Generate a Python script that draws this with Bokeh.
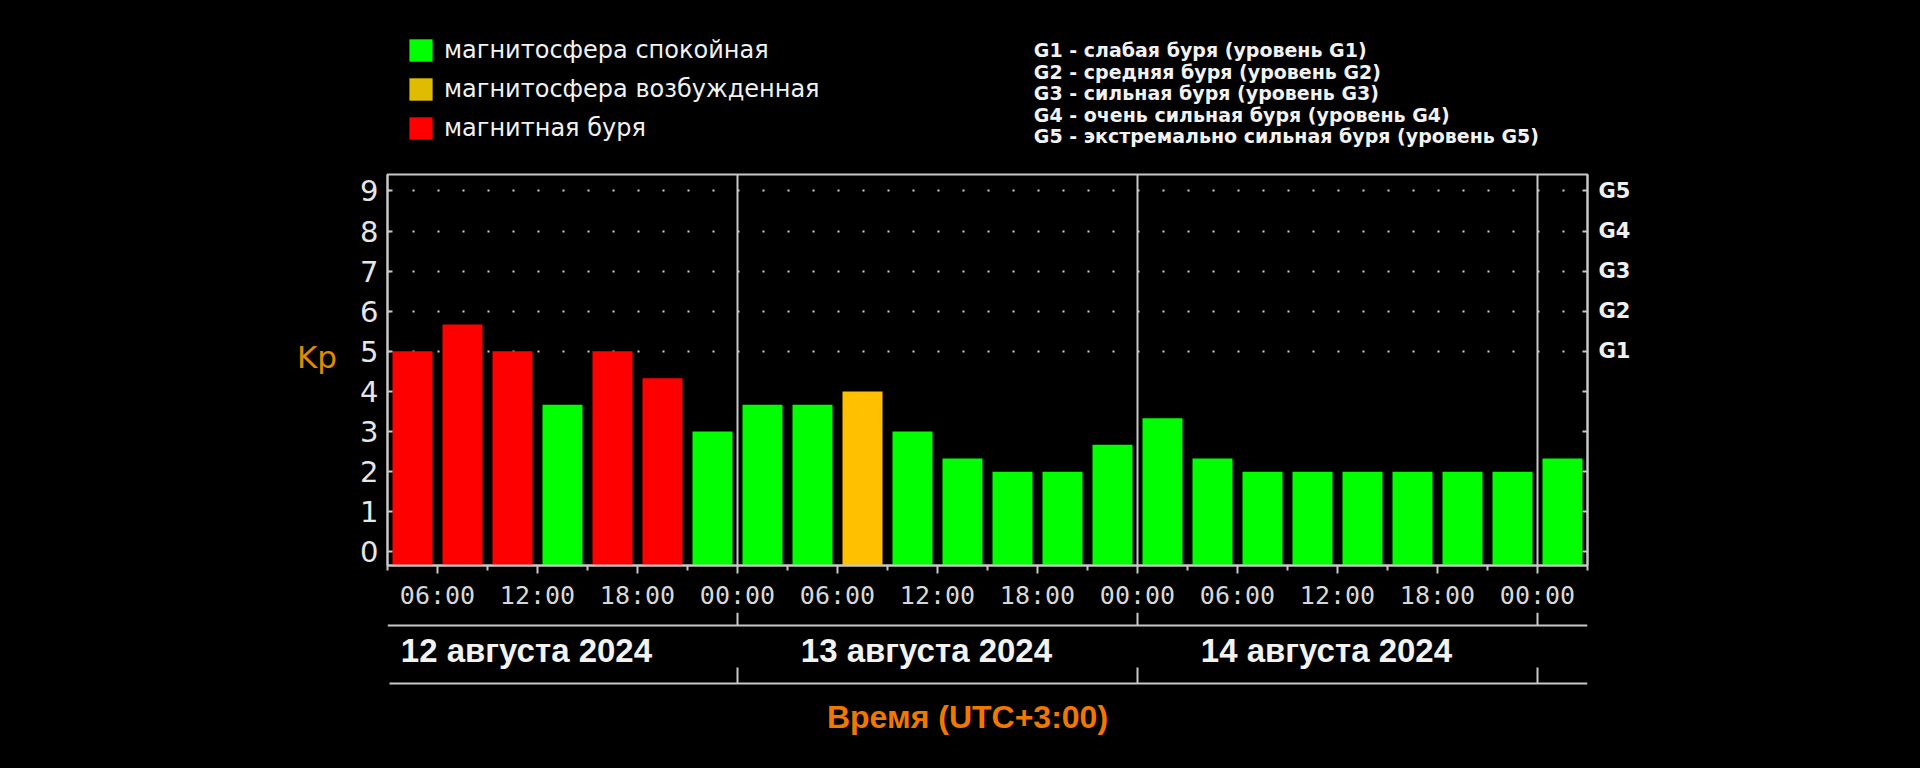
from bokeh.plotting import figure
from bokeh.layouts import column
from bokeh.models import (Range1d, FixedTicker, LinearAxis, Span, Label, Legend,
                          LegendItem, ColumnDataSource)
from bokeh.embed import file_html
from bokeh.resources import INLINE

# ---------------- data ----------------
# hours counted from 12 Aug 2024 00:00 (UTC+3); first 3-hour slot starts 03:00
first_slot_start = 3
slot_hours = 3
kp = [5.0, 5.67, 5.0, 3.67, 5.0, 4.33, 3.0,
      3.67, 3.67, 4.0, 3.0, 2.33, 2.0, 2.0, 2.67,
      3.33, 2.33, 2.0, 2.0, 2.0, 2.0, 2.0, 2.0,
      2.33]
status = ["storm", "storm", "storm", "quiet", "storm", "storm", "quiet",
          "quiet", "quiet", "active", "quiet", "quiet", "quiet", "quiet", "quiet",
          "quiet", "quiet", "quiet", "quiet", "quiet", "quiet", "quiet", "quiet",
          "quiet"]
status_keys = ["quiet", "active", "storm"]
status_labels = ["магнитосфера спокойная", "магнитосфера возбужденная", "магнитная буря"]
status_colors = ["#00FF00", "#FFC000", "#FF0000"]
legend_colors = ["#00FF00", "#E0BC00", "#FF0000"]

day_labels = ["12 августа 2024", "13 августа 2024", "14 августа 2024"]
day_starts = [0, 24, 48]
day_bounds = [24, 48, 72]

time_ticks = [6, 12, 18, 24, 30, 36, 42, 48, 54, 60, 66, 72]
time_tick_labels = ["06:00", "12:00", "18:00", "00:00",
                    "06:00", "12:00", "18:00", "00:00",
                    "06:00", "12:00", "18:00", "00:00"]
minor_time_ticks = [3, 9, 15, 21, 27, 33, 39, 45, 51, 57, 63, 69, 75]

kp_ticks = [0, 1, 2, 3, 4, 5, 6, 7, 8, 9]
g_ticks = [5, 6, 7, 8, 9]
g_tick_labels = ["G1", "G2", "G3", "G4", "G5"]
g_legend = ["G1 - слабая буря (уровень G1)",
            "G2 - средняя буря (уровень G2)",
            "G3 - сильная буря (уровень G3)",
            "G4 - очень сильная буря (уровень G4)",
            "G5 - экстремально сильная буря (уровень G5)"]

# ---------------- common ----------------
X0, X1 = 3, 75
Y0, Y1 = -0.34, 9.41
FRAME = "#C8C8C8"
BLACK = {"background-color": "black"}
xr = Range1d(X0, X1)
LEFT, RIGHT = 387, 333

def bare(height, y_range):
    f = figure(width=1920, height=height, x_range=xr, y_range=y_range,
               output_backend="svg", toolbar_location=None,
               x_axis_type=None, y_axis_type=None,
               min_border_left=LEFT, min_border_right=RIGHT,
               min_border_top=0, min_border_bottom=0,
               background_fill_color="black", border_fill_color="black",
               outline_line_color=None, styles=BLACK)
    f.grid.visible = False
    return f

x_centers = [first_slot_start + slot_hours * (i + 0.5) for i in range(len(kp))]
sources = []
for key in status_keys:
    xs = [x for x, s in zip(x_centers, status) if s == key]
    ys = [v for v, s in zip(kp, status) if s == key]
    sources.append(ColumnDataSource(dict(x=xs, top=ys)))

# ---------------- top: legends ----------------
TOP_H = 164
top = bare(TOP_H, Range1d(TOP_H, 0))   # y measured downward in pixels
proxies = []
for src, col in zip(sources, legend_colors):
    proxies.append(top.vbar(x="x", top="top", bottom=0, width=1, source=src,
                            fill_color=col, line_color=None, visible=False))
legend = Legend(items=[LegendItem(label=lab, renderers=[r])
                       for lab, r in zip(status_labels, proxies)],
                location=(19, 22), orientation="vertical", click_policy="none",
                glyph_width=29, glyph_height=28, label_standoff=9, spacing=11,
                padding=0, margin=0, border_line_alpha=0, background_fill_alpha=0,
                inactive_fill_alpha=0,
                label_text_color="#F2F2F2", label_text_font="DejaVu Sans",
                label_text_font_size="24px")
top.add_layout(legend)

g_base = [49.5, 71, 92.5, 114, 135.5]
for yy, txt in zip(g_base, g_legend):
    top.add_layout(Label(x=41.78, y=yy, text=txt, text_font="DejaVu Sans",
                         text_font_style="bold", text_font_size="19px", text_color="#F2F2F2",
                         text_align="left", text_baseline="alphabetic"))

# ---------------- main chart ----------------
BOTTOM_B = 45
p = figure(width=1920, height=10 + 393 + BOTTOM_B, x_range=xr, y_range=Range1d(Y0, Y1),
           output_backend="svg", toolbar_location=None,
           min_border_left=LEFT, min_border_right=RIGHT, min_border_top=10,
           min_border_bottom=BOTTOM_B,
           background_fill_color="black", border_fill_color="black",
           outline_line_color=FRAME, outline_line_width=2, styles=BLACK)

p.xgrid.visible = False
p.ygrid.ticker = FixedTicker(ticks=g_ticks)
p.ygrid.grid_line_color = "#D0D0D0"
p.ygrid.grid_line_width = 2
p.ygrid.grid_line_dash = "2 23"

for src, col in zip(sources, status_colors):
    p.vbar(x="x", top="top", bottom=Y0, width=2.4, source=src,
           fill_color=col, line_color=None)

for b in day_bounds:
    p.add_layout(Span(location=b, dimension="height", line_color=FRAME, line_width=2))

xa = p.xaxis[0]
xa.ticker = FixedTicker(ticks=time_ticks, minor_ticks=minor_time_ticks)
xa.major_label_overrides = dict(zip(time_ticks, time_tick_labels))
xa.axis_line_color = FRAME
xa.axis_line_width = 2
xa.major_tick_line_color = FRAME
xa.major_tick_line_width = 2
xa.minor_tick_line_color = FRAME
xa.minor_tick_line_width = 2
xa.major_tick_in = 0
xa.major_tick_out = 8
xa.minor_tick_in = 0
xa.minor_tick_out = 5
xa.major_label_text_font = "DejaVu Sans Mono"
xa.major_label_text_font_size = "25px"
xa.major_label_text_color = "#D8D8D8"
xa.major_label_standoff = 7

ya = p.yaxis[0]
ya.ticker = FixedTicker(ticks=kp_ticks, minor_ticks=[])
ya.axis_line_color = FRAME
ya.axis_line_width = 2
ya.major_tick_line_color = FRAME
ya.major_tick_line_width = 2
ya.major_tick_in = 5
ya.major_tick_out = 0
ya.minor_tick_line_color = None
ya.major_label_text_font = "DejaVu Sans"
ya.major_label_text_font_size = "29px"
ya.major_label_text_color = "#E6E6E6"
ya.major_label_standoff = 9
ya.axis_label = "Kp\n"
ya.axis_label_orientation = "horizontal"
ya.axis_label_text_font = "DejaVu Sans"
ya.axis_label_text_font_style = "normal"
ya.axis_label_text_font_size = "31px"
ya.axis_label_text_line_height = 0.75
ya.axis_label_text_color = "#E08A00"
ya.axis_label_standoff = 20

ra = LinearAxis(ticker=FixedTicker(ticks=kp_ticks, minor_ticks=[]))
overrides = {t: "" for t in kp_ticks}
overrides.update(dict(zip(g_ticks, g_tick_labels)))
ra.major_label_overrides = overrides
ra.axis_line_color = FRAME
ra.axis_line_width = 2
ra.major_tick_line_color = FRAME
ra.major_tick_line_width = 2
ra.major_tick_in = 5
ra.major_tick_out = 0
ra.minor_tick_line_color = None
ra.major_label_text_font = "DejaVu Sans"
ra.major_label_text_font_style = "bold"
ra.major_label_text_font_size = "21px"
ra.major_label_text_color = "#F0F0F0"
ra.major_label_standoff = 11
p.add_layout(ra, "right")

# ---------------- bottom: date row ----------------
BOT_TOP = TOP_H + 10 + 393 + BOTTOM_B
bot = bare(768 - BOT_TOP, Range1d(768, BOT_TOP))   # y measured downward in pixels
LINE1, LINE2 = 625, 683
seg = dict(x0=[], y0=[], x1=[], y1=[])
def add_seg(a, b, c, d):
    seg["x0"].append(a); seg["y0"].append(b); seg["x1"].append(c); seg["y1"].append(d)
for b in day_bounds:
    add_seg(b, BOT_TOP, b, LINE1)
    add_seg(b, LINE2 - 16, b, LINE2)
add_seg(X0, LINE1, X1, LINE1)
add_seg(X0 + 0.12, LINE2, X1, LINE2)
bot.segment(x0="x0", y0="y0", x1="x1", y1="y1", source=ColumnDataSource(seg),
            line_color=FRAME, line_width=2)

for d0, txt in zip(day_starts, day_labels):
    bot.add_layout(Label(x=d0 + 3.8, y=649.5, text=txt, text_font="Liberation Sans",
                         text_font_style="bold", text_font_size="33px", text_color="#F2F2F2",
                         text_align="left", text_baseline="alphabetic"))

bot.add_layout(Label(x=37.8, y=716.5, text="Время (UTC+3:00)", text_font="Liberation Sans",
                     text_font_style="bold", text_font_size="32px", text_color="#F07800",
                     text_align="center", text_baseline="alphabetic"))

layout = column(top, p, bot, spacing=0, styles=BLACK)
open("out.html", "w").write(file_html(layout, INLINE))
